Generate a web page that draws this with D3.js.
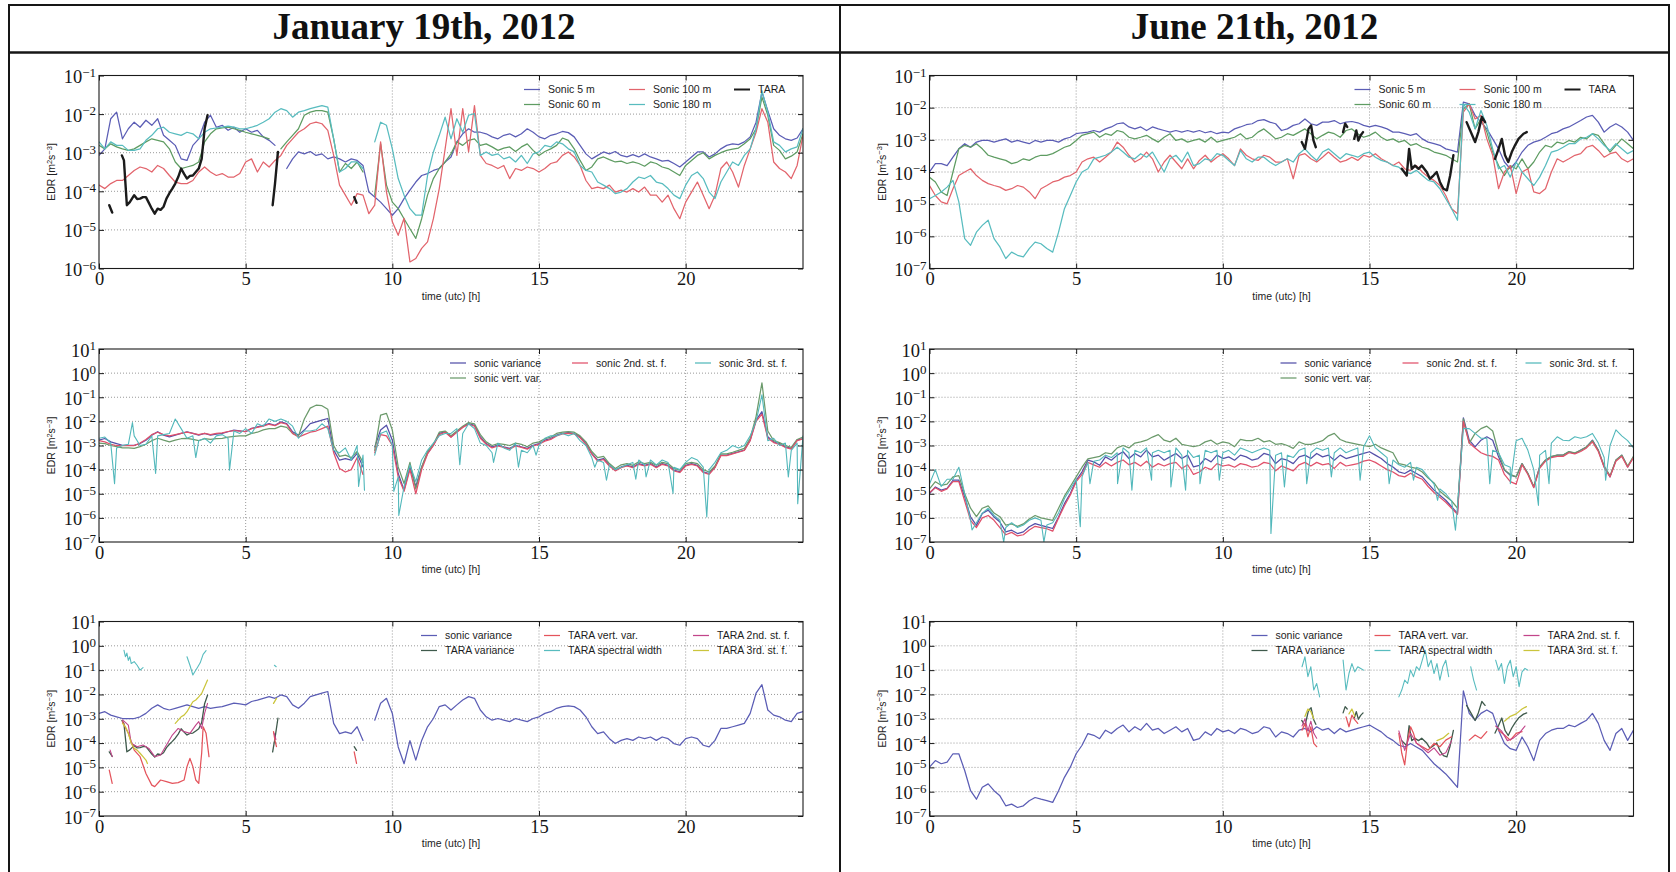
<!DOCTYPE html>
<html>
<head>
<meta charset="utf-8">
<script src="https://cdn.jsdelivr.net/npm/d3@7"></script>
<style>
  html, body { margin: 0; padding: 0; background: #ffffff; }
  svg { display: block; }
</style>
</head>
<body>
<svg id="fig" width="1676" height="872"></svg>
<script>
// EDR time series for two days of tower / TARA radar measurements.
// Every value below is log10 of EDR in m^2 s^-3.
// Regular series are sampled every STEP hours from 0 to 24 h (121 samples, null = no data).
const STEP = 0.2;
const xTicks = [0, 5, 10, 15, 20];
const dayTitles = ["January 19th, 2012", "June 21th, 2012"];

const towerLabels = ["Sonic 5 m", "Sonic 60 m", "Sonic 100 m", "Sonic 180 m", "TARA"];
const sonicMethodLabels = ["sonic variance", "sonic vert. var.", "sonic 2nd. st. f.", "sonic 3rd. st. f."];
const taraMethodLabels = ["sonic variance", "TARA variance", "TARA vert. var.", "TARA spectral width", "TARA 2nd. st. f.", "TARA 3rd. st. f."];

const towerColors = ["#5b5db5", "#5e9c62", "#e2646c", "#58bcbf", "#1b1b1b"];
const sonicMethodColors = ["#5450a8", "#6b9a6b", "#e0506a", "#52b8bb"];
const taraMethodColors = ["#5b5db5", "#3f5a4c", "#e4545c", "#58bcbf", "#c2458a", "#cbc53c"];

// ---------- January 19th, 2012: sonic anemometers at four heights ----------
const janSonic5m = [
  -3.07,-2.90,-2.12,-1.95,-2.64, -2.38,-2.21,-2.34,-2.16,-2.29, -2.12,-2.55,-2.68,-2.81,-3.16,
  -3.20,-2.81,-2.64,-2.21,-2.03, -2.34,-2.29,-2.42,-2.34,-2.47, -2.38,-2.47,-2.42,-2.59,-2.68,
  -2.81,null,-3.41,-3.16,-2.98, -3.03,-2.97,-3.07,-3.03,-3.16, -3.11,-3.16,-3.24,-3.16,-3.20,
  -3.33,-4.02,-4.15,-4.28,-4.45, -4.62,-4.45,-4.19,-3.97,-3.76, -3.59,-3.54,-3.46,-3.41,-3.24,
  -3.11,-2.72,-2.51,-2.38,-2.47, -2.47,-2.51,-2.59,-2.64,-2.55, -2.51,-2.59,-2.51,-2.38,-2.47,
  -2.59,-2.64,-2.55,-2.51,-2.45, -2.48,-2.59,-2.81,-3.03,-3.16, -3.07,-2.98,-3.03,-2.97,-3.07,
  -3.11,-3.05,-3.11,-3.03,-3.11, -3.16,-3.22,-3.20,-3.28,-3.37, -3.24,-3.11,-2.98,-2.98,-3.11,
  -3.03,-2.90,-2.81,-2.77,-2.79, -2.72,-2.59,-2.21,-1.43,-1.91, -2.38,-2.55,-2.64,-2.68,-2.62,
  -2.38
];
const janSonic60m = [
  -2.81,-2.90,-2.77,-2.85,-2.90, -2.94,-2.90,-2.81,-2.72,-2.64, -2.68,-2.72,-2.90,-3.24,-3.41,
  -3.37,-3.33,-3.24,-2.72,-2.51, -2.38,-2.36,-2.34,-2.38,-2.42, -2.47,-2.51,-2.55,-2.59,-2.64,
  null,-2.90,-2.72,-2.55,-2.38, -2.03,-1.95,-1.91,-1.91,-1.95, -2.64,-3.50,-3.28,-3.41,-3.24,
  -3.50,null,-4.10,-2.77,-3.84, -4.28,-4.45,-4.71,-4.97,-5.22, -4.71,-4.10,-3.67,-3.41,-3.24,
  -3.03,-2.72,-2.81,-2.68,-2.64, -2.81,-2.77,-2.85,-2.94,-2.88, -2.85,-2.97,-2.85,-2.77,-2.94,
  -3.07,-2.97,-2.90,-2.81,-2.62, -2.68,-2.90,-3.20,-3.46,-3.37, -3.16,-3.11,-3.18,-3.24,-3.22,
  -3.28,-3.24,-3.28,-3.35,-3.24, -3.28,-3.37,-3.41,-3.50,-3.59, -3.33,-3.20,-3.07,-3.00,-3.16,
  -3.07,-3.00,-2.94,-2.91,-2.88, -2.77,-2.64,-2.38,-1.56,-2.03, -2.81,-2.94,-3.16,-3.09,-2.98,
  -2.51
];
const janSonic100m = [
  -3.84,-3.93,-3.80,-3.72,-3.72, -3.59,-3.46,-3.37,-3.41,-3.50, -3.33,-3.41,-3.59,-3.76,-3.80,
  -3.80,-3.72,-3.50,-3.37,-3.50, -3.59,-3.54,-3.63,-3.63,-3.54, -3.24,-3.16,-3.50,-3.24,-3.37,
  -3.20,-3.07,-2.81,-2.64,-2.47, -2.38,-2.25,-2.21,-2.25,-2.42, -3.07,-3.84,-4.10,-4.36,-4.06,
  -4.10,-4.58,-4.36,-2.72,-4.02, -4.79,-5.14,-4.70,-5.83,-5.74, -5.48,-5.31,-4.71,-3.93,-2.90,
  -1.86,-3.07,-1.86,-2.98,-1.78, -3.07,-3.28,-3.33,-3.41,-3.33, -3.67,-3.41,-3.46,-3.37,-3.41,
  -3.50,-3.41,-3.28,-3.24,-3.07, -2.98,-3.11,-3.33,-3.72,-3.93, -3.89,-3.93,-3.84,-4.02,-3.97,
  -4.02,-3.93,-4.02,-3.89,-4.10, -4.10,-4.28,-4.10,-4.45,-4.71, -4.28,-4.02,-3.76,-4.10,-4.45,
  -4.10,-3.41,-3.24,-3.50,-3.89, -3.33,-2.90,-2.47,-1.86,-2.21, -3.24,-3.41,-3.50,-3.67,-3.33,
  -2.55
];
const janSonic180m = [
  -2.72,-2.90,-2.72,-2.81,-2.81, -2.94,-2.94,-2.90,-2.68,-2.55, -2.38,-2.34,-2.47,-2.51,-2.55,
  -2.47,-2.51,-2.64,-2.47,-2.38, -2.36,-2.34,-2.31,-2.34,-2.38, -2.38,-2.34,-2.29,-2.21,-2.12,
  -1.95,-1.86,-1.91,-2.08,-1.95, -1.91,-1.86,-1.82,-1.78,-1.82, -2.64,-3.50,-3.41,-3.24,-3.24,
  -3.41,null,-2.72,-2.21,-2.29, -2.90,-3.67,-4.10,-4.45,-4.62, -4.62,-3.59,-2.98,-2.55,-2.08,
  -2.64,-2.12,-2.47,-2.03,-1.99, -3.07,-2.98,-3.07,-3.03,-3.16, -3.11,-3.24,-3.07,-3.28,-3.03,
  -2.98,-2.81,-2.85,-2.72,-2.77, -2.90,-2.98,-3.33,-3.46,-3.50, -3.76,-3.84,-3.93,-4.06,-4.02,
  -3.93,-3.76,-3.63,-3.67,-3.59, -3.76,-3.80,-3.93,-4.10,-4.19, -3.84,-3.59,-3.50,-3.67,-4.02,
  -4.19,-3.76,-3.50,-3.24,-3.33, -3.07,-2.90,-2.38,-1.39,-1.95, -2.72,-2.81,-2.98,-2.90,-2.85,
  -2.38
];
// TARA radar, irregular samples as [hour, log10 EDR], null breaks the line
const janTara = [
  [0.35,-4.36],[0.45,-4.55], null,
  [0.78,-3.07],[0.85,-3.20],[0.95,-4.36],[1.05,-4.28],[1.2,-4.10],[1.3,-4.20],[1.4,-4.19],[1.5,-4.15],
  [1.6,-4.15],[1.7,-4.30],[1.8,-4.45],[1.9,-4.58],[2.0,-4.45],[2.1,-4.48],[2.2,-4.40],[2.3,-4.19],
  [2.4,-4.05],[2.5,-3.93],[2.6,-3.80],[2.7,-3.63],[2.8,-3.41],[2.9,-3.55],[3.0,-3.67],[3.1,-3.60],
  [3.2,-3.59],[3.3,-3.50],[3.4,-3.41],[3.5,-3.16],[3.6,-2.38],[3.7,-2.03], null,
  [5.92,-4.36],[6.0,-3.80],[6.1,-2.98], null,
  [8.70,-4.15],[8.78,-4.30]
];

// ---------- June 21st, 2012: sonic anemometers at four heights ----------
const junSonic5m = [
  -4.00,-3.74,-3.74,-3.80,-3.54, -3.28,-3.12,-3.23,-3.07,-3.02, -3.02,-3.07,-3.02,-2.97,-3.07,
  -3.02,-3.07,-3.12,-3.02,-3.07, -3.02,-3.02,-3.07,-2.97,-2.92, -2.81,-2.78,-2.76,-2.71,-2.76,
  -2.66,-2.60,-2.50,-2.47,-2.60, -2.66,-2.60,-2.71,-2.60,-2.66, -2.71,-2.76,-2.71,-2.76,-2.71,
  -2.76,-2.71,-2.78,-2.74,-2.81, -2.76,-2.78,-2.66,-2.60,-2.53, -2.50,-2.40,-2.37,-2.45,-2.50,
  -2.71,-2.66,-2.55,-2.50,-2.35, -2.50,-2.55,-2.45,-2.45,-2.40, -2.50,-2.45,-2.43,-2.47,-2.55,
  -2.60,-2.55,-2.60,-2.66,-2.76, -2.76,-2.81,-2.86,-2.81,-2.97, -3.07,-3.12,-3.17,-3.28,-3.33,
  -3.38,-1.83,-1.88,-2.24,-2.45, -2.66,-2.97,-3.28,-3.69,-3.90, -3.69,-3.38,-3.17,-3.07,-3.02,
  -2.92,-2.81,-2.76,-2.66,-2.60, -2.50,-2.40,-2.29,-2.24,-2.45, -2.76,-2.60,-2.50,-2.60,-2.76,
  -3.02
];
const junSonic60m = [
  -4.16,-4.31,-4.62,-4.73,-4.00, -3.28,-3.17,-3.23,-3.12,-3.28, -3.48,-3.54,-3.59,-3.64,-3.74,
  -3.69,-3.59,-3.64,-3.54,-3.48, -3.48,-3.43,-3.33,-3.23,-3.17, -3.02,-2.86,-2.81,-2.76,-2.92,
  -2.81,-2.86,-2.71,-2.76,-2.92, -2.97,-2.92,-2.86,-2.97,-3.07, -2.92,-2.81,-3.02,-2.97,-3.07,
  -3.02,-2.97,-3.07,-2.92,-3.07, -3.02,-2.97,-2.92,-2.81,-2.97, -2.92,-2.76,-2.66,-2.81,-2.97,
  -2.92,-2.81,-2.86,-2.76,-2.66, -2.81,-2.97,-2.86,-2.76,-2.81, -2.92,-2.71,-2.66,-2.81,-2.92,
  -2.86,-2.76,-2.92,-3.02,-2.97, -3.07,-3.02,-3.17,-3.12,-3.23, -3.28,-3.38,-3.43,-3.48,-3.59,
  -3.69,-2.04,-1.88,-2.66,-2.35, -2.76,-3.38,-3.80,-4.11,-3.80, -3.90,-3.59,-3.90,-3.69,-3.38,
  -3.17,-3.23,-3.07,-3.12,-3.02, -3.07,-2.92,-2.97,-2.81,-2.86, -3.12,-3.38,-3.17,-2.97,-3.12,
  -3.28
];
const junSonic100m = [
  -4.42,-4.73,-4.93,-4.99,-4.52, -4.11,-4.00,-3.90,-4.11,-4.26, -4.36,-4.42,-4.47,-4.57,-4.52,
  -4.42,-4.47,-4.62,-4.83,-4.52, -4.42,-4.31,-4.26,-4.16,-4.11, -4.00,-3.69,-3.59,-3.54,-3.69,
  -3.54,-3.38,-3.07,-3.23,-3.48, -3.69,-3.59,-3.38,-3.59,-4.00, -3.69,-3.48,-3.69,-3.90,-3.59,
  -3.90,-3.64,-3.48,-3.69,-3.54, -3.43,-3.59,-3.80,-3.28,-3.48, -3.59,-3.64,-3.48,-3.54,-3.69,
  -3.69,-3.59,-4.21,-3.48,-3.43, -3.59,-3.69,-3.54,-3.38,-3.54, -3.69,-3.64,-3.54,-3.64,-3.48,
  -3.54,-3.43,-3.59,-3.69,-3.80, -3.69,-3.90,-3.95,-3.80,-4.00, -4.16,-4.26,-4.42,-4.73,-5.14,
  -5.30,-2.14,-1.88,-2.35,-2.24, -2.97,-3.48,-4.52,-4.00,-3.80, -4.67,-4.00,-3.90,-4.62,-4.67,
  -4.52,-4.00,-3.59,-3.69,-3.59, -3.48,-3.43,-3.23,-3.17,-3.33, -3.54,-3.43,-3.38,-3.59,-3.69,
  -3.59
];
const junSonic180m = [
  -4.83,-4.73,-4.62,-4.47,-4.26, -4.93,-6.07,-6.28,-5.87,-5.66, -5.50,-6.07,-6.33,-6.69,-6.49,
  -6.59,-6.64,-6.38,-6.18,-6.23, -6.38,-6.49,-5.87,-5.14,-4.73, -4.31,-4.00,-3.90,-3.59,-3.54,
  -3.48,-3.38,-3.23,-3.38,-3.54, -3.59,-3.43,-3.54,-3.38,-3.69, -4.00,-3.59,-3.48,-3.69,-3.38,
  -3.80,-3.74,-3.59,-3.64,-3.43, -3.48,-3.64,-3.80,-3.33,-3.59, -3.69,-3.54,-3.54,-3.69,-3.80,
  -3.69,-3.59,-3.69,-3.43,-3.28, -3.48,-3.64,-3.38,-3.28,-3.43, -3.59,-3.43,-3.48,-3.54,-3.43,
  -3.38,-3.54,-3.64,-3.69,-3.80, -3.85,-4.00,-4.05,-3.95,-4.11, -4.26,-4.31,-4.52,-4.83,-5.14,
  -5.50,-1.88,-2.14,-2.66,-2.09, -2.55,-3.28,-3.90,-3.80,-4.16, -3.69,-4.00,-4.21,-4.42,-4.16,
  -3.80,-3.38,-3.33,-3.23,-3.12, -3.12,-2.97,-2.92,-2.81,-2.97, -3.17,-3.33,-3.12,-3.28,-3.43,
  -3.33
];
const junTara = [
  [12.69,-3.07],[12.80,-3.28],[12.92,-2.66],[13.01,-2.55],[13.09,-3.02],[13.17,-3.23], null,
  [14.10,-2.76],[14.17,-2.50],[14.24,-2.60], null,
  [14.48,-2.97],[14.55,-2.71],[14.62,-3.02],[14.70,-2.86],[14.78,-2.76], null,
  [16.10,-3.90],[16.27,-4.11],[16.35,-3.28],[16.44,-3.90],[16.55,-3.80],[16.67,-3.90],[16.78,-3.80],
  [16.95,-4.00],[17.06,-4.21],[17.18,-4.11],[17.29,-4.00],[17.40,-4.31],[17.52,-4.52],[17.64,-4.57],
  [17.75,-4.11],[17.86,-3.48], null,
  [18.31,-2.45],[18.48,-2.81],[18.60,-3.07],[18.71,-2.76],[18.83,-2.29],[18.94,-2.45], null,
  [19.28,-3.59],[19.40,-3.28],[19.51,-2.97],[19.62,-3.48],[19.73,-3.69],[19.85,-3.38],[19.96,-3.17],
  [20.08,-2.97],[20.25,-2.81],[20.36,-2.76]
];

// ---------- January: sonic EDR from four estimation methods ----------
const janVar = [
  -2.78,-2.71,-2.85,-2.92,-2.99, -2.99,-2.99,-2.92,-2.78,-2.57, -2.43,-2.57,-2.64,-2.57,-2.50,
  -2.43,-2.50,-2.57,-2.50,-2.57, -2.53,-2.50,-2.43,-2.36,-2.39, -2.43,-2.29,-2.23,-2.16,-2.09,
  -2.16,-2.02,-2.09,-2.43,-2.57, -2.36,-2.09,-2.02,-1.95,-1.88, -3.19,-3.61,-3.54,-3.61,-3.33,
  -3.89,null,-3.06,-2.36,-2.16, -2.78,-4.16,-4.85,-3.90,-4.70, -3.89,-3.33,-2.99,-2.50,-2.43,
  -2.64,-2.43,-2.23,-2.09,-2.16, -2.64,-2.92,-3.06,-2.99,-3.06, -3.12,-2.99,-3.06,-3.12,-2.99,
  -2.92,-2.78,-2.71,-2.57,-2.50, -2.47,-2.50,-2.64,-2.92,-3.33, -3.61,-3.54,-3.82,-4.02,-3.89,
  -3.82,-3.89,-3.75,-3.82,-3.75, -3.89,-3.75,-3.82,-4.02,-4.09, -3.82,-3.75,-3.82,-4.09,-4.16,
  -3.89,-3.40,-3.40,-3.33,-3.26, -3.19,-2.78,-1.95,-1.60,-2.64, -2.85,-2.92,-3.06,-3.12,-2.78,
  -2.71
];
const janVert = [
  -2.90,-2.92,-3.00,-3.05,-3.10, -3.10,-3.12,-3.05,-2.95,-2.80, -2.70,-2.78,-2.85,-2.78,-2.72,
  -2.70,-2.75,-2.80,-2.72,-2.75, -2.72,-2.70,-2.65,-2.62,-2.60, -2.60,-2.50,-2.45,-2.35,-2.30,
  -2.30,-2.20,-2.25,-2.50,-2.60, -1.90,-1.45,-1.33,-1.35,-1.50, -3.00,-3.45,-3.40,-3.50,-3.25,
  -3.70,null,-3.20,-1.74,-1.67, -2.36,-3.89,-4.58,-3.70,-4.80, -3.90,-3.25,-2.95,-2.45,-2.40,
  -2.60,-2.40,-2.20,-2.05,-2.10, -2.55,-2.85,-3.00,-2.92,-2.95, -3.00,-2.90,-2.95,-3.05,-2.90,
  -2.85,-2.72,-2.65,-2.50,-2.45, -2.42,-2.45,-2.60,-2.85,-3.25, -3.50,-3.45,-3.75,-3.95,-3.80,
  -3.75,-3.82,-3.68,-3.75,-3.70, -3.82,-3.70,-3.75,-3.95,-4.02, -3.75,-3.70,-3.75,-4.00,-4.10,
  -3.85,-3.35,-3.35,-3.28,-3.20, -3.12,-2.70,-1.80,-0.40,-2.40, -2.80,-2.88,-3.00,-3.08,-2.75,
  -2.65
];
const janSecond = [
  -2.80,-2.85,-2.95,-3.00,-3.00, -3.00,-3.00,-2.90,-2.75,-2.55, -2.45,-2.55,-2.60,-2.55,-2.50,
  -2.45,-2.50,-2.55,-2.50,-2.55, -2.50,-2.48,-2.42,-2.38,-2.40, -2.42,-2.30,-2.25,-2.20,-2.12,
  -2.18,-2.05,-2.12,-2.50,-2.65, -2.55,-2.45,-2.40,-2.30,-2.20, -3.30,-3.95,-4.10,-4.00,-3.50,
  -4.20,null,-3.30,-2.55,-2.60, -3.00,-4.30,-4.90,-4.00,-5.00, -4.00,-3.35,-3.00,-2.55,-2.45,
  -2.66,-2.45,-2.25,-2.12,-2.20, -2.70,-2.95,-3.10,-3.02,-3.08, -3.15,-3.02,-3.08,-3.15,-3.02,
  -2.95,-2.82,-2.75,-2.60,-2.52, -2.50,-2.52,-2.68,-2.95,-3.36, -3.65,-3.58,-3.85,-4.05,-3.92,
  -3.85,-3.92,-3.78,-3.85,-3.78, -3.92,-3.78,-3.85,-4.05,-4.12, -3.85,-3.78,-3.85,-4.12,-4.20,
  -3.92,-3.42,-3.42,-3.35,-3.28, -3.20,-2.80,-2.00,-1.70,-2.70, -2.88,-2.95,-3.08,-3.15,-2.80,
  -2.72
];
const janThird = [
  -2.70,-2.65,-2.90,-3.10,-3.00, -2.95,-2.60,-3.00,-2.95,-2.60, -2.60,-2.55,-2.50,-1.90,-2.30,
  -2.70,-2.60,-2.80,-2.70,-2.90, -2.60,-2.55,-2.70,-2.40,-2.50, -2.30,-2.50,-2.10,-2.20,-1.90,
  -2.00,-1.90,-2.00,-2.20,-2.70, -2.40,-2.40,-2.35,-2.10,-2.30, -3.20,-3.30,-3.10,-3.60,-3.00,
  -3.40,null,-3.40,-2.50,-2.40, -3.00,-4.30,-4.70,-3.80,-4.50, -3.60,-3.20,-2.90,-2.60,-2.50,
  -2.50,-2.30,-2.50,-2.10,-2.30, -2.90,-3.00,-3.30,-2.90,-3.10, -3.20,-2.90,-3.20,-3.30,-3.00,
  -3.00,-2.70,-2.60,-2.60,-2.50, -2.60,-2.50,-2.80,-3.00,-3.50, -3.60,-3.70,-3.80,-4.00,-3.90,
  -3.80,-3.70,-3.60,-3.80,-3.60, -3.80,-3.60,-3.70,-3.90,-4.00, -3.70,-3.50,-3.60,-3.90,-4.00,
  -3.70,-3.30,-3.20,-3.00,-3.10, -3.00,-2.60,-2.00,-0.90,-2.80, -2.70,-3.00,-2.90,-3.20,-2.90,
  -2.60
];
// short dropouts of the 3rd-order structure function, [hour, log10 EDR]
const janThirdDips = [
  [0.53,-4.58],[1.14,-2.05],[1.93,-4.16],[3.3,-3.5],[4.45,-4.02],[8.85,-4.7],[9.05,-4.85],
  [10.05,-4.9],[10.22,-5.9],[12.3,-3.8],[13.45,-3.7],[14.3,-3.9],[14.9,-3.4],[16.9,-3.9],
  [17.3,-4.44],[18.3,-4.4],[18.65,-4.3],[19.57,-4.99],[20.72,-5.96],[23.5,-4.3],[23.82,-5.41]
];

// ---------- June: sonic EDR from four estimation methods ----------
const junVar = [
  -4.99,-4.72,-4.85,-4.78,-4.44, -4.44,-5.13,-5.96,-6.31,-5.82, -5.68,-5.96,-6.17,-6.58,-6.51,
  -6.65,-6.58,-6.37,-6.24,-6.31, -6.37,-6.44,-5.96,-5.41,-4.99, -4.44,-4.09,-3.61,-3.68,-3.82,
  -3.47,-3.61,-3.40,-3.26,-3.54, -3.33,-3.47,-3.19,-3.47,-3.40, -3.61,-3.47,-3.33,-3.54,-3.40,
  -3.89,-3.82,-3.54,-3.68,-3.40, -3.54,-3.47,-3.61,-3.40,-3.47, -3.61,-3.54,-3.33,-3.40,-3.75,
  -3.54,-3.61,-3.75,-3.47,-3.40, -3.54,-3.33,-3.47,-3.40,-3.61, -3.40,-3.54,-3.47,-3.40,-3.33,
  -3.26,-3.40,-3.54,-3.75,-3.89, -4.09,-4.16,-4.02,-4.16,-4.30, -4.58,-4.85,-5.06,-5.27,-5.54,
  -5.82,-1.85,-2.78,-3.06,-2.78, -2.64,-2.78,-3.47,-4.02,-4.23, -4.30,-3.75,-4.16,-4.72,-3.89,
  -3.61,-3.47,-3.40,-3.40,-3.26, -3.33,-3.19,-3.06,-2.78,-3.19, -3.89,-4.30,-3.61,-3.40,-3.89,
  -3.47
];
const junVert = [
  -4.80,-4.50,-4.65,-4.60,-4.30, -4.25,-5.00,-5.60,-5.95,-5.60, -5.50,-5.80,-5.95,-6.30,-6.25,
  -6.35,-6.25,-6.05,-5.90,-6.00, -6.05,-6.10,-5.60,-5.10,-4.70, -4.30,-3.90,-3.55,-3.50,-3.45,
  -3.30,-3.35,-3.10,-3.00,-3.10, -2.90,-2.85,-2.78,-2.65,-2.55, -2.78,-2.85,-2.70,-2.95,-3.00,
  -3.05,-3.00,-2.85,-2.78,-2.95, -2.85,-2.90,-3.05,-2.75,-2.80, -2.80,-2.70,-2.85,-2.80,-2.95,
  -2.92,-3.00,-3.12,-2.85,-2.95, -2.95,-2.88,-2.80,-2.60,-2.50, -2.75,-2.85,-2.90,-2.95,-3.00,
  -3.05,-2.95,-3.10,-3.20,-3.30, -3.75,-3.80,-3.90,-3.95,-4.10, -4.35,-4.55,-4.90,-5.10,-5.30,
  -5.60,-1.90,-2.90,-2.50,-2.30, -2.20,-2.40,-3.30,-4.00,-4.20, -4.30,-3.75,-4.15,-4.70,-3.90,
  -3.60,-3.45,-3.40,-3.40,-3.25, -3.30,-3.20,-3.05,-2.80,-3.20, -3.85,-4.25,-3.60,-3.40,-3.85,
  -3.45
];
const junSecond = [
  -4.95,-4.75,-4.90,-4.80,-4.50, -4.50,-5.30,-6.10,-6.40,-6.00, -5.90,-6.10,-6.40,-6.70,-6.60,
  -6.75,-6.70,-6.50,-6.35,-6.40, -6.45,-6.55,-6.00,-5.50,-5.05, -4.50,-4.20,-3.70,-3.80,-3.90,
  -3.70,-3.85,-3.70,-3.60,-3.80, -3.70,-3.85,-3.65,-3.90,-3.75, -3.85,-3.75,-3.70,-3.95,-3.80,
  -4.20,-4.10,-3.90,-4.00,-3.75, -3.85,-3.80,-3.90,-3.75,-3.80, -3.90,-3.85,-3.70,-3.75,-4.05,
  -3.85,-3.95,-4.05,-3.80,-3.70, -3.85,-3.70,-3.80,-3.75,-3.95, -3.70,-3.85,-3.80,-3.75,-3.65,
  -3.60,-3.70,-3.85,-4.00,-4.10, -4.25,-4.30,-4.15,-4.30,-4.40, -4.70,-4.95,-5.15,-5.35,-5.60,
  -5.85,-2.00,-2.90,-3.10,-3.30, -3.40,-3.45,-3.60,-4.20,-4.50, -4.60,-3.80,-4.20,-4.75,-3.95,
  -3.65,-3.50,-3.45,-3.45,-3.30, -3.35,-3.25,-3.10,-2.85,-3.25, -3.90,-4.30,-3.65,-3.45,-3.90,
  -3.50
];
const junThird = [
  -4.60,-4.00,-4.70,-4.40,-4.40, -3.90,-5.00,-6.10,-6.20,-5.80, -5.60,-5.90,-6.10,-6.40,-6.20,
  -6.40,-6.30,-6.10,-6.00,-6.10, -6.30,-6.20,-5.80,-5.20,-4.80, -4.40,-4.30,-3.70,-3.65,-3.60,
  -3.40,-3.50,-3.30,-3.10,-3.30, -3.20,-3.30,-3.10,-3.30,-3.20, -3.30,-3.20,-3.10,-3.40,-3.20,
  -3.50,-3.40,-3.20,-3.30,-3.20, -3.30,-3.20,-3.40,-3.10,-3.20, -3.30,-3.20,-3.10,-3.20,-3.40,
  -3.30,-3.40,-3.50,-3.20,-3.10, -3.30,-3.10,-3.20,-3.10,-3.30, -3.10,-3.30,-3.20,-3.10,-3.05,
  -2.60,-3.10,-3.30,-3.50,-3.60, -3.80,-3.90,-3.70,-3.90,-4.00, -4.30,-4.60,-4.80,-5.00,-5.30,
  -5.50,-2.30,-2.30,-2.50,-2.70, -2.70,-3.20,-3.30,-3.80,-3.90, -2.80,-2.70,-3.20,-4.00,-3.40,
  -3.20,-2.90,-2.64,-2.78,-2.80, -2.64,-2.70,-2.64,-2.50,-2.90, -3.50,-3.00,-2.35,-2.60,-2.80,
  -3.10
];
const junThirdDips = [
  [1.45,-6.5],[2.53,-7.0],[3.9,-7.0],[5.14,-6.37],[5.47,-4.58],[6.41,-4.58],[6.9,-4.85],
  [7.57,-4.44],[8.23,-4.72],[8.73,-4.85],[9.22,-4.58],[9.88,-4.44],[11.64,-6.65],[12.1,-4.72],
  [12.86,-4.58],[13.7,-4.3],[14.68,-4.44],[15.67,-4.58],[16.5,-4.44],[17.32,-5.27],[17.93,-6.51],
  [19.1,-4.58],[19.8,-4.58],[20.76,-5.48],[21.12,-4.58],[23.05,-4.44]
];

// ---------- TARA radar estimates, [hour, log10 EDR] ----------
const janTaraVert = [
  [0.35,-5.11],[0.45,-5.66], null,
  [0.8,-3.12],[1.0,-3.6],[1.2,-4.29],[1.4,-4.56],[1.6,-5.25],[1.8,-5.73],[1.9,-5.79],[2.1,-5.52],
  [2.3,-5.59],[2.5,-5.66],[2.7,-5.63],[2.9,-5.52],[3.0,-4.97],[3.1,-4.63],[3.2,-4.97],[3.3,-5.52],
  [3.4,-5.66],[3.5,-4.42],[3.55,-3.33],[3.65,-3.6],[3.75,-4.56], null,
  [5.95,-3.53],[6.0,-3.9],[6.05,-4.15], null,
  [8.7,-4.36],[8.78,-4.84]
];
const janTaraWidth = [
  [0.85,-0.18],[0.9,-0.45],[0.95,-0.3],[1.0,-0.6],[1.05,-0.45],[1.1,-0.73],[1.2,-0.65],[1.3,-0.8],
  [1.4,-1.0],[1.5,-0.9], null,
  [3.0,-0.45],[3.1,-0.8],[3.2,-1.2],[3.25,-1.1],[3.35,-0.9],[3.45,-0.7],[3.55,-0.35],[3.65,-0.2], null,
  [5.98,-0.8],[6.04,-0.86]
];
const janTara2nd = [
  [0.38,-4.29],[0.45,-4.56], null,
  [0.8,-3.05],[0.9,-3.15],[1.0,-3.26],[1.1,-4.01],[1.3,-4.15],[1.5,-4.08],[1.7,-4.22],[1.9,-4.56],
  [2.1,-4.49],[2.3,-4.08],[2.5,-3.67],[2.7,-3.4],[2.9,-3.53],[3.1,-3.6],[3.3,-3.26],[3.4,-3.12],
  [3.5,-3.4],[3.6,-2.78],[3.7,-2.37], null,
  [5.97,-3.6],[6.03,-3.85]
];
const janTara3rd = [
  [0.8,-3.19],[0.9,-3.33],[1.0,-3.6],[1.1,-4.01],[1.2,-4.22],[1.3,-4.29],[1.4,-4.42],[1.5,-4.56],
  [1.6,-4.7],[1.65,-4.84], null,
  [2.6,-3.19],[2.8,-2.92],[2.9,-2.85],[3.0,-2.71],[3.1,-2.5],[3.2,-2.3],[3.3,-2.23],[3.4,-2.1],
  [3.5,-1.96],[3.6,-1.68],[3.7,-1.41], null,
  [5.95,-2.37],[6.05,-2.16]
];
const junTaraVert = [
  [12.7,-3.47],[12.8,-3.19],[12.9,-3.74],[13.0,-3.33],[13.1,-4.01],[13.2,-4.15], null,
  [14.2,-2.92],[14.3,-3.33],[14.4,-2.85],[14.5,-3.05],[14.6,-3.19], null,
  [16.0,-3.6],[16.1,-4.42],[16.2,-4.9],[16.3,-3.88],[16.4,-3.33],[16.5,-3.6],[16.6,-4.01],[16.8,-4.15],
  [17.0,-4.29],[17.2,-4.01],[17.4,-4.15],[17.6,-3.88],[17.8,-3.74], null,
  [18.4,-3.88],[18.6,-3.67],[18.8,-3.81],[19.0,-3.53], null,
  [19.4,-3.47],[19.6,-3.67],[19.8,-3.88],[20.0,-3.6],[20.2,-3.53]
];
const junTaraWidth = [
  [12.7,-0.86],[12.8,-0.45],[12.9,-1.27],[13.0,-0.86],[13.1,-1.82],[13.2,-1.55],[13.3,-2.1], null,
  [14.1,-0.59],[14.2,-1.82],[14.3,-1.14],[14.4,-0.73],[14.5,-1.07],[14.6,-0.86],[14.7,-0.93],[14.8,-1.0], null,
  [16.0,-2.1],[16.1,-1.82],[16.2,-1.41],[16.3,-1.55],[16.4,-1.0],[16.5,-1.27],[16.6,-0.86],[16.7,-1.0],
  [16.8,-0.59],[16.9,-0.18],[17.0,-0.86],[17.1,-0.59],[17.2,-1.14],[17.3,-0.73],[17.4,-1.41],[17.5,-0.86],
  [17.6,-0.59],[17.7,-1.27], null,
  [18.45,-0.86],[18.55,-1.41],[18.65,-1.82], null,
  [19.3,-0.59],[19.4,-1.0],[19.5,-0.73],[19.6,-1.55],[19.7,-0.86],[19.8,-0.59],[19.9,-1.27],[20.0,-0.86],
  [20.1,-1.68],[20.2,-1.07],[20.3,-0.93],[20.4,-1.0]
];
const junTara2nd = [
  [12.7,-3.3],[12.8,-3.0],[12.9,-3.5],[13.0,-3.1],[13.1,-3.6],[13.2,-3.8], null,
  [16.0,-3.5],[16.2,-4.3],[16.4,-3.6],[16.6,-4.0],[16.8,-4.2],[17.0,-4.4],[17.2,-4.2],[17.4,-4.5],
  [17.6,-4.4],[17.8,-3.9], null,
  [19.3,-3.3],[19.5,-3.5],[19.7,-3.9],[19.9,-3.8],[20.1,-3.6],[20.3,-3.3]
];
const junTara3rd = [
  [12.8,-2.9],[12.9,-2.6],[13.0,-2.7],[13.1,-3.0], null,
  [14.3,-2.8],[14.4,-2.6],[14.5,-2.9], null,
  [17.3,-3.9],[17.5,-3.8],[17.7,-3.6], null,
  [19.6,-3.1],[19.8,-2.9],[20.0,-2.8],[20.2,-2.6],[20.35,-2.5]
];

// ---------- point builders ----------
function regular(values, dips) {
  let pts = values.map((v, i) => ({ t: i * STEP, v }));
  if (dips) {
    pts = pts.concat(dips.map(([t, v]) => ({ t, v }))).sort((a, b) => a.t - b.t);
  }
  return pts;
}
function irregular(pairs) {
  return pairs.map(p => (p ? { t: p[0], v: p[1] } : { t: null, v: null }));
}

// ---------- layout ----------
const SERIF = "'Liberation Serif', 'Times New Roman', serif";
const SANS = "'Liberation Sans', Arial, Helvetica, sans-serif";
const PLOT_W = 704;
const LW = 1.25;
const colLeft = [99, 929.5];
const colCenter = [424, 1254.5];
const rowBoxes = [
  { top: 75.5, h: 193 },
  { top: 349, h: 193 },
  { top: 621.5, h: 194.5 }
];
const legendCols = [[449, 554, 659], [375, 497, 620], [346, 469, 618]];
const legendRows = [14, 29];

const panels = [
  { col: 0, row: 0, lo: -6, hi: -1, labels: towerLabels,
    series: [
      { pts: regular(janSonic5m), color: towerColors[0], w: LW },
      { pts: regular(janSonic60m), color: towerColors[1], w: LW },
      { pts: regular(janSonic100m), color: towerColors[2], w: LW },
      { pts: regular(janSonic180m), color: towerColors[3], w: LW },
      { pts: irregular(janTara), color: towerColors[4], w: 2.4 }
    ], legendColors: towerColors, legendWidths: [LW, LW, LW, LW, 2.0] },
  { col: 1, row: 0, lo: -7, hi: -1, labels: towerLabels,
    series: [
      { pts: regular(junSonic5m), color: towerColors[0], w: LW },
      { pts: regular(junSonic60m), color: towerColors[1], w: LW },
      { pts: regular(junSonic100m), color: towerColors[2], w: LW },
      { pts: regular(junSonic180m), color: towerColors[3], w: LW },
      { pts: irregular(junTara), color: towerColors[4], w: 2.4 }
    ], legendColors: towerColors, legendWidths: [LW, LW, LW, LW, 2.0] },
  { col: 0, row: 1, lo: -7, hi: 1, labels: sonicMethodLabels,
    series: [
      { pts: regular(janVar), color: sonicMethodColors[0], w: LW },
      { pts: regular(janVert), color: sonicMethodColors[1], w: LW },
      { pts: regular(janSecond), color: sonicMethodColors[2], w: LW },
      { pts: regular(janThird, janThirdDips), color: sonicMethodColors[3], w: 1.1 }
    ], legendColors: sonicMethodColors },
  { col: 1, row: 1, lo: -7, hi: 1, labels: sonicMethodLabels,
    series: [
      { pts: regular(junVar), color: sonicMethodColors[0], w: LW },
      { pts: regular(junVert), color: sonicMethodColors[1], w: LW },
      { pts: regular(junSecond), color: sonicMethodColors[2], w: LW },
      { pts: regular(junThird, junThirdDips), color: sonicMethodColors[3], w: 1.1 }
    ], legendColors: sonicMethodColors },
  { col: 0, row: 2, lo: -7, hi: 1, labels: taraMethodLabels,
    series: [
      { pts: regular(janVar), color: taraMethodColors[0], w: LW },
      { pts: irregular(janTara), color: taraMethodColors[1], w: 1.3 },
      { pts: irregular(janTaraVert), color: taraMethodColors[2], w: LW },
      { pts: irregular(janTaraWidth), color: taraMethodColors[3], w: 1.1 },
      { pts: irregular(janTara2nd), color: taraMethodColors[4], w: 1.1 },
      { pts: irregular(janTara3rd), color: taraMethodColors[5], w: LW }
    ], legendColors: taraMethodColors },
  { col: 1, row: 2, lo: -7, hi: 1, labels: taraMethodLabels,
    series: [
      { pts: regular(junVar), color: taraMethodColors[0], w: LW },
      { pts: irregular(junTara), color: taraMethodColors[1], w: 1.3 },
      { pts: irregular(junTaraVert), color: taraMethodColors[2], w: LW },
      { pts: irregular(junTaraWidth), color: taraMethodColors[3], w: 1.1 },
      { pts: irregular(junTara2nd), color: taraMethodColors[4], w: 1.1 },
      { pts: irregular(junTara3rd), color: taraMethodColors[5], w: LW }
    ], legendColors: taraMethodColors }
];

const svg = d3.select("#fig");
svg.append("rect").attr("width", 1676).attr("height", 872).attr("fill", "#ffffff");

// ---------- table frame and day headers ----------
const frame = svg.append("g").attr("stroke", "#161616").attr("fill", "none");
frame.append("rect").attr("x", 9).attr("y", 5).attr("width", 1660).attr("height", 900).attr("stroke-width", 2);
frame.append("line").attr("x1", 9).attr("x2", 1669).attr("y1", 52.5).attr("y2", 52.5).attr("stroke-width", 2.4);
frame.append("line").attr("x1", 840).attr("x2", 840).attr("y1", 5).attr("y2", 900).attr("stroke-width", 2);

svg.selectAll("text.day").data(dayTitles).join("text")
  .attr("class", "day")
  .attr("x", (d, i) => colCenter[i]).attr("y", 39)
  .attr("text-anchor", "middle")
  .attr("font-family", SERIF).attr("font-weight", "bold").attr("font-size", 37)
  .attr("fill", "#111").text(d => d);

// ---------- panels ----------
function legendLayout(n, ncol) {
  // column-major filling as in matplotlib: the first (n % ncol) columns hold one extra row
  const base = Math.floor(n / ncol), extra = n % ncol;
  const out = [];
  let c = 0, r = 0;
  for (let i = 0; i < n; i++) {
    out.push({ c, r });
    r++;
    const rowsInCol = base + (c < extra ? 1 : 0);
    if (r >= rowsInCol) { c++; r = 0; }
  }
  return out;
}

panels.forEach((p, pi) => {
  const x0 = colLeft[p.col];
  const box = rowBoxes[p.row];
  const x = d3.scaleLinear().domain([0, 24]).range([x0, x0 + PLOT_W]);
  const y = d3.scaleLog().domain([Math.pow(10, p.lo), Math.pow(10, p.hi)]).range([box.top + box.h, box.top]);
  const decades = d3.range(p.lo, p.hi + 1).map(k => Math.pow(10, k));
  const g = svg.append("g");

  // dotted grid
  const grid = g.append("g").attr("stroke", "#8d8d8d").attr("stroke-width", 0.9).attr("stroke-dasharray", "1,2");
  grid.selectAll("line.gy").data(decades.slice(1, -1)).join("line")
    .attr("x1", x0).attr("x2", x0 + PLOT_W).attr("y1", d => y(d)).attr("y2", d => y(d));
  grid.selectAll("line.gx").data(xTicks.slice(1)).join("line")
    .attr("x1", d => x(d)).attr("x2", d => x(d)).attr("y1", box.top).attr("y2", box.top + box.h);

  // series
  const clipId = "clip" + pi;
  svg.append("clipPath").attr("id", clipId).append("rect")
    .attr("x", x0).attr("y", box.top).attr("width", PLOT_W).attr("height", box.h);
  const line = d3.line()
    .defined(d => d.v !== null && d.t !== null)
    .x(d => x(d.t))
    .y(d => y(Math.pow(10, d.v)));
  const lines = g.append("g").attr("clip-path", `url(#${clipId})`);
  p.series.forEach(s => {
    lines.append("path").attr("d", line(s.pts))
      .attr("fill", "none").attr("stroke", s.color).attr("stroke-width", s.w)
      .attr("stroke-linejoin", "round").attr("stroke-linecap", "round");
  });

  // plot frame
  g.append("rect").attr("x", x0).attr("y", box.top).attr("width", PLOT_W).attr("height", box.h)
    .attr("fill", "none").attr("stroke", "#1a1a1a").attr("stroke-width", 1.1);

  // axes (ticks point inward)
  const axB = g.append("g").attr("transform", `translate(0,${box.top + box.h})`)
    .call(d3.axisBottom(x).tickValues(xTicks).tickSize(-5).tickFormat(d3.format("d")));
  axB.select(".domain").remove();
  axB.selectAll(".tick line").attr("stroke", "#1a1a1a");
  axB.selectAll(".tick text").attr("y", 16.5).attr("dy", 0)
    .attr("font-family", SERIF).attr("font-size", 18.5).attr("fill", "#151515");

  const axT = g.append("g").attr("transform", `translate(0,${box.top})`)
    .call(d3.axisTop(x).tickValues(xTicks).tickSize(-5).tickFormat(""));
  axT.select(".domain").remove();
  axT.selectAll(".tick line").attr("stroke", "#1a1a1a");

  const axL = g.append("g").attr("transform", `translate(${x0},0)`)
    .call(d3.axisLeft(y).tickValues(decades).tickSize(-5).tickFormat(() => ""));
  axL.select(".domain").remove();
  axL.selectAll(".tick line").attr("stroke", "#1a1a1a");
  axL.selectAll(".tick text").each(function (d) {
    const e = Math.round(Math.log10(d));
    const t = d3.select(this)
      .attr("x", -3).attr("dy", 7)
      .attr("font-family", SERIF).attr("font-size", 18.5).attr("fill", "#151515");
    t.text(null);
    t.append("tspan").text("10");
    t.append("tspan").attr("dy", -6.5).attr("font-size", 13).text(e < 0 ? "\u2212" + (-e) : String(e));
  });

  const axR = g.append("g").attr("transform", `translate(${x0 + PLOT_W},0)`)
    .call(d3.axisRight(y).tickValues(decades).tickSize(-5).tickFormat(""));
  axR.select(".domain").remove();
  axR.selectAll(".tick line").attr("stroke", "#1a1a1a");

  // axis titles
  g.append("text")
    .attr("x", x0 + PLOT_W / 2).attr("y", box.top + box.h + 31)
    .attr("text-anchor", "middle").attr("font-family", SANS).attr("font-size", 10.5).attr("fill", "#222")
    .text("time (utc) [h]");
  const yl = g.append("text")
    .attr("transform", `translate(${x0 - 44},${box.top + box.h / 2}) rotate(-90)`)
    .attr("text-anchor", "middle").attr("font-family", SANS).attr("font-size", 10.5).attr("fill", "#222");
  yl.append("tspan").text("EDR [m");
  yl.append("tspan").attr("dy", -3.5).attr("font-size", 7.5).text("2");
  yl.append("tspan").attr("dy", 3.5).text("s");
  yl.append("tspan").attr("dy", -3.5).attr("font-size", 7.5).text("\u22123");
  yl.append("tspan").attr("dy", 3.5).text("]");

  // legend
  const lay = legendLayout(p.labels.length, 3);
  const cols = legendCols[p.row];
  const lg = g.append("g");
  p.labels.forEach((lab, i) => {
    const tx = x0 + cols[lay[i].c];
    const ty = box.top + legendRows[lay[i].r];
    const lw = p.legendWidths ? p.legendWidths[i] : LW;
    lg.append("line").attr("x1", tx - 24).attr("x2", tx - 8).attr("y1", ty).attr("y2", ty)
      .attr("stroke", p.legendColors[i]).attr("stroke-width", lw);
    lg.append("text").attr("x", tx).attr("y", ty).attr("dy", "0.35em")
      .attr("font-family", SANS).attr("font-size", 10.5).attr("fill", "#1c1c1c").text(lab);
  });
});
</script>
</body>
</html>
